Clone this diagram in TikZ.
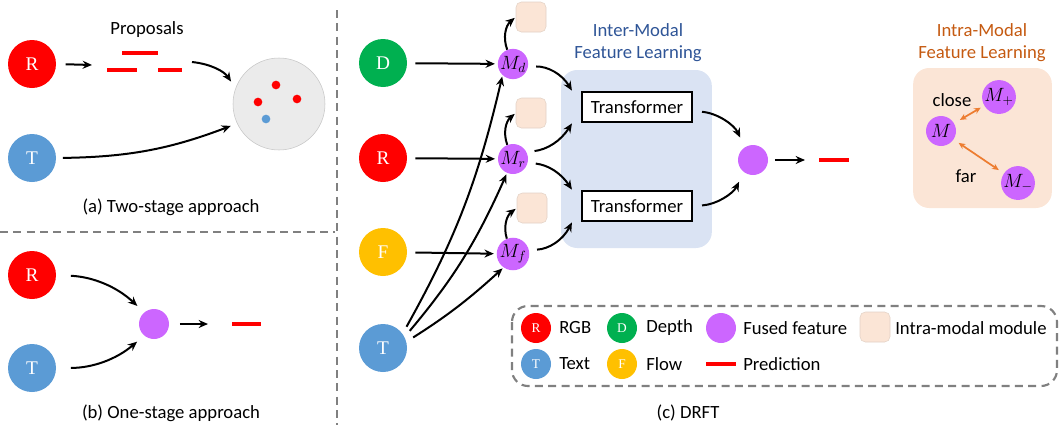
\documentclass[tikz,border=0pt]{standalone}
\usepackage{fontspec}
\setmainfont{Carlito}
\newfontfamily\lettfont{Liberation Serif}
\usetikzlibrary{arrows.meta}
\definecolor{cred}{HTML}{FF0000}
\definecolor{cgreen}{HTML}{00B050}
\definecolor{cyellow}{HTML}{FFC000}
\definecolor{cblue}{HTML}{5B9BD5}
\definecolor{cpurple}{HTML}{CC66FF}
\definecolor{cpeach}{HTML}{FBE5D6}
\definecolor{cinter}{HTML}{DAE3F3}
\definecolor{cintertxt}{HTML}{2F5597}
\definecolor{cintratxt}{HTML}{C55A11}
\definecolor{corange}{HTML}{ED7D31}
\definecolor{cpool}{HTML}{EBEBEB}
\definecolor{cdash}{HTML}{808080}
\begin{document}
\begin{tikzpicture}[x=0.75pt, y=-0.75pt,
  font=\fontsize{14}{16.5}\selectfont,
  modal/.style={shape=circle, fill=#1, text=white, inner sep=0pt, minimum size=36pt, font=\lettfont\fontsize{14.5}{14.5}\selectfont},
  key/.style={modal=#1, minimum size=22.5pt, font=\lettfont\fontsize{10}{10}\selectfont},
  fused/.style={shape=circle, fill=cpurple, inner sep=0pt, minimum size=22.5pt, font=\fontsize{14.5}{14.5}\selectfont},
  intra/.style={fill=cpeach, draw=cpeach!80!gray, line width=0.4pt, rounded corners=4pt, inner sep=0pt, minimum size=22.5pt},
  trans/.style={draw, fill=white, line width=1.6pt, minimum width=82pt, minimum height=23pt, inner sep=0pt},
  flow/.style={-{Stealth[length=7pt, width=6pt]}, line width=1.5pt},
  pull/.style={{Stealth[length=5pt, width=4.5pt]}-{Stealth[length=5pt, width=4.5pt]}, draw=corange, line width=1.3pt},
  pred/.style={draw=cred, line width=3pt},
  sep/.style={draw=cdash, line width=2.2pt, dash pattern=on 6pt off 4pt},
  lab/.style={anchor=west, inner sep=0pt},
]
\useasboundingbox (0,0) rectangle (1061,425);

%separators
\draw[sep] (337,10) -- (337,425);
\draw[sep] (0,232) -- (335,232);

%(a) two-stage
\node[modal=cred] (aR) at (32,64) {R};
\node[modal=cblue] (aT) at (32,158) {T};
\node (prop) at (147,30) {Proposals};
\coordinate (pin) at (92,65);
\coordinate (pout) at (192,62);
\draw[pred] (122,53) -- (158,53);
\draw[pred] (107,70) -- (137,70);
\draw[pred] (158,70) -- (182,70);
\node[circle, fill=cpool, draw=gray!45, line width=0.4pt, minimum size=69pt] (pool) at (279,104) {};
\node[circle, fill=cred, inner sep=0pt, minimum size=6.5pt] (pd1) at (276,85) {};
\node[circle, fill=cred, inner sep=0pt, minimum size=6.5pt] (pd2) at (258,102) {};
\node[circle, fill=cred, inner sep=0pt, minimum size=6.5pt] (pd3) at (297,99) {};
\node[circle, fill=cblue, inner sep=0pt, minimum size=6.5pt] (pd4) at (266,119) {};
\draw[flow, shorten <=7pt] (aR.east) -- (pin);
\draw[flow, shorten >=6pt] (pout) to[bend left=25] (pool.160);
\draw[flow, shorten <=5pt, shorten >=5pt] (aT.east) to[bend right=10] (pool.205);
\node (capa) at (171,207) {(a) Two-stage approach};

%(b) one-stage
\node[modal=cred] (bR) at (32,275) {R};
\node[modal=cblue] (bT) at (32,368) {T};
\node[fused] (bM) at (154,324) {};
\coordinate (bout) at (208,324);
\draw[flow, shorten <=11pt, shorten >=7pt] (bR.east) to[bend left=20] (bM.130);
\draw[flow, shorten <=11pt, shorten >=7pt] (bT.east) to[bend right=20] (bM.230);
\draw[flow, shorten <=8pt] (bM.east) -- (bout);
\draw[pred] (232,324) -- (261,324);
\node (capb) at (171,413) {(b) One-stage approach};

%(c) DRFT
\node[fill=cinter, rounded corners=12pt, minimum width=113pt, minimum height=133.5pt] (interbox) at (636.5,159) {};
\node[text=cintertxt, align=center] (intertitle) at (638,43) {Inter-Modal\\Feature Learning};
\node[trans] (T1) at (637,107) {Transformer};
\node[trans] (T2) at (637,206) {Transformer};

\node[modal=cgreen] (cD) at (383,63) {D};
\node[modal=cred] (cR) at (383,158) {R};
\node[modal=cyellow] (cF) at (383,252) {F};
\node[modal=cblue] (cT) at (383,348) {T};

\node[fused] (Md) at (513,64) {$M_d$};
\node[fused] (Mr) at (513,159) {$M_r$};
\node[fused] (Mf) at (513,254) {$M_f$};
\node[intra] (ibd) at (531,17) {};
\node[intra] (ibr) at (531,113) {};
\node[intra] (ibf) at (532,208) {};

\draw[flow, shorten <=6pt, shorten >=2pt] (cD) -- (Md);
\draw[flow, shorten <=6pt, shorten >=2pt] (cR) -- (Mr);
\draw[flow, shorten <=6pt, shorten >=2pt] (cF) -- (Mf);
\draw[flow, shorten <=6pt, shorten >=1pt] (cT.36) to[bend right=8] (Md.227);
\draw[flow, shorten <=6pt, shorten >=1pt] (cT.27) to[bend right=8] (Mr.247);
\draw[flow, shorten <=6pt, shorten >=1pt] (cT.15) to[bend right=5] (Mf.235);

\draw[flow, shorten >=1pt] (Md.112) to[bend left=35] (ibd.west);
\draw[flow, shorten >=1pt] (Mr.112) to[bend left=35] (ibr.west);
\draw[flow, shorten >=1pt] (Mf.112) to[bend left=35] (ibf.west);

\draw[flow, shorten <=6pt] (Md.-10) to[bend left=30] ([xshift=-7pt]T1.north west);
\draw[flow, shorten <=6pt] (Mr.27) to[bend right=25] ([xshift=-7pt]T1.south west);
\draw[flow, shorten <=6pt] (Mr.-14) to[bend left=25] ([xshift=-7pt]T2.north west);
\draw[flow, shorten <=6pt] (Mf.14) to[bend right=30] ([xshift=-7pt]T2.south west);

\node[fused] (cM) at (753,160) {};
\coordinate (cout) at (805,160);
\draw[flow, shorten <=7pt, shorten >=8pt] ([yshift=-3pt]T1.east) to[bend left=30] (cM.123);
\draw[flow, shorten <=7pt, shorten >=8pt] (T2.east) to[bend right=30] (cM.233);
\draw[flow, shorten <=5pt] (cM.east) -- (cout);
\draw[pred] (819,160) -- (849,160);

%intra-modal
\node[fill=cpeach, rounded corners=12pt, minimum width=104pt, minimum height=105pt] (intrabox) at (982.5,138) {};
\node[text=cintratxt, align=center] (intratitle) at (982,43) {Intra-Modal\\Feature Learning};
\node[fused] (Mp) at (999,97) {$M_+$};
\node[fused] (M) at (941,131) {$M$};
\node[fused] (Mm) at (1018,183) {$M_-$};
\node (close) at (952,100) {close};
\node (far) at (966,176) {far};
\draw[pull, shorten <=5pt, shorten >=3pt] (M) -- (Mp);
\draw[pull, shorten <=4.5pt, shorten >=4.5pt] (M) -- (Mm);

%legend
\draw[draw=cdash, line width=1.6pt, dash pattern=on 6pt off 4pt, rounded corners=12pt] (512,306) rectangle (1057,386);
\node[key=cred] (kR) at (536,328) {R};
\node[lab] (lR) at (559,328) {RGB};
\node[key=cgreen] (kD) at (622,328) {D};
\node[lab] (lD) at (646,328) {Depth};
\node[fused] (kM) at (721,328) {};
\node[lab] (lM) at (743,328) {Fused feature};
\node[intra] (kI) at (875,327) {};
\node[lab] (lI) at (895,328) {Intra-modal module};
\node[key=cblue] (kT) at (536,364) {T};
\node[lab] (lT) at (559,364) {Text};
\node[key=cyellow] (kF) at (622,364) {F};
\node[lab] (lF) at (646,364) {Flow};
\draw[pred] (706,364) -- (736,364);
\node[lab] (lP) at (743,364) {Prediction};
\node (capc) at (688,413) {(c) DRFT};

\end{tikzpicture}
\end{document}
